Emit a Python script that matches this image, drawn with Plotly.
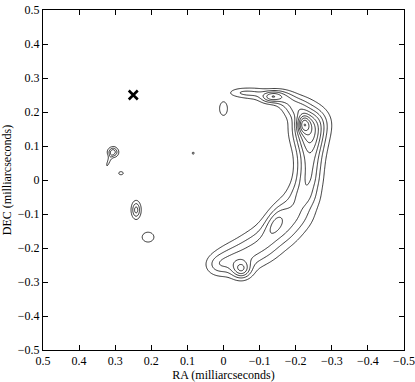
import numpy as np
import plotly.graph_objects as go

# Emission components (RA, DEC in mas)
comp_ra    = [-0.222, -0.230,
              -0.252, -0.242, -0.240, -0.238, -0.235, -0.225, -0.200, -0.160, -0.110, -0.060, -0.012, 0.020,
              -0.142, -0.050,
              -0.200, -0.168, -0.134, -0.090, -0.045,
              0.000, 0.306, 0.318, 0.284, 0.242, 0.209, 0.084]
comp_dec   = [0.165, 0.158,
              0.170, 0.125, 0.085, 0.045, 0.005, -0.040, -0.095, -0.145, -0.190, -0.220, -0.238, -0.250,
              -0.122, -0.264,
              0.215, 0.240, 0.245, 0.254, 0.257,
              0.210, 0.082, 0.055, 0.020, -0.088, -0.168, 0.079]
comp_amp   = [3.5, 3.2,
              2.4, 2.7, 2.7, 2.7, 2.7, 2.7, 2.5, 2.4, 2.3, 2.2, 2.0, 1.5,
              1.7, 3.6,
              2.4, 2.4, 3.8, 1.8, 1.4,
              1.5, 3.6, 1.3, 1.5, 3.4, 1.5, 1.6]
comp_sx    = [0.012, 0.030,
              0.030, 0.028, 0.026, 0.025, 0.025, 0.028, 0.036, 0.036, 0.036, 0.034, 0.030, 0.024,
              0.016, 0.018,
              0.025, 0.022, 0.020, 0.030, 0.025,
              0.012, 0.010, 0.004, 0.007, 0.009, 0.018, 0.003]
comp_sy    = [0.018, 0.042,
              0.030, 0.028, 0.026, 0.025, 0.025, 0.028, 0.036, 0.036, 0.036, 0.034, 0.030, 0.022,
              0.034, 0.018,
              0.021, 0.016, 0.012, 0.013, 0.010,
              0.022, 0.010, 0.020, 0.005, 0.018, 0.016, 0.003]
comp_angle = [0, 0,
              0, 0, 0, 0, 0, 0, 0, 0, 0, 0, 0, 0,
              25, 0,
              0, 0, -10, 0, 0,
              0, 0, 20, 0, 0, 0, 0]

contour_levels = dict(start=1, end=14, size=1)

# Reference position marker
marker_ra = [0.25]
marker_dec = [0.25]

x_ticks = [0.5, 0.4, 0.3, 0.2, 0.1, 0, -0.1, -0.2, -0.3, -0.4, -0.5]
y_ticks = [-0.5, -0.4, -0.3, -0.2, -0.1, 0, 0.1, 0.2, 0.3, 0.4, 0.5]

grid = np.linspace(-0.5, 0.5, 401)
X, Y = np.meshgrid(grid, grid)
Z = np.zeros_like(X)
for ra, dec, a, sx, sy, ang in zip(comp_ra, comp_dec, comp_amp, comp_sx, comp_sy, comp_angle):
    t = np.deg2rad(ang)
    dx, dy = X - ra, Y - dec
    u = dx * np.cos(t) + dy * np.sin(t)
    v = -dx * np.sin(t) + dy * np.cos(t)
    Z += a * np.exp(-0.5 * ((u / sx) ** 2 + (v / sy) ** 2))

def fmt(v):
    s = f"{v:g}"
    return s.replace("-", "\u2212")

fig = go.Figure()
fig.add_trace(go.Contour(
    x=grid, y=grid, z=Z,
    contours=dict(coloring="lines", **contour_levels),
    colorscale=[[0, "black"], [1, "black"]],
    line=dict(width=0.8, color="#333"),
    showscale=False, hoverinfo="skip",
))
fig.add_trace(go.Scatter(
    x=marker_ra, y=marker_dec, mode="markers",
    marker=dict(symbol="x-thin", size=9, line=dict(width=2.6, color="black")),
    showlegend=False, hoverinfo="skip",
))

axis_common = dict(
    showgrid=False, zeroline=False, showline=True, linecolor="black", linewidth=1,
    mirror="ticks", ticks="inside", ticklen=5, tickcolor="black", automargin=False,
    tickfont=dict(family="Liberation Serif", size=12, color="black"),
)
fig.update_xaxes(range=[0.5, -0.5], tickvals=x_ticks, ticktext=[fmt(v) for v in x_ticks],
                 title=dict(text="RA (milliarcseconds)", standoff=2,
                            font=dict(family="Liberation Serif", size=12, color="black")),
                 **axis_common)
fig.update_yaxes(range=[-0.5, 0.5], tickvals=y_ticks, ticktext=[fmt(v) for v in y_ticks],
                 title=dict(text="DEC (milliarcseconds)", standoff=4,
                            font=dict(family="Liberation Serif", size=12, color="black")),
                 **axis_common)
fig.update_layout(
    width=415, height=382,
    margin=dict(l=43, r=11, t=10, b=32),
    plot_bgcolor="white", paper_bgcolor="white",
    showlegend=False,
)
fig.write_html("out.html", config={"displayModeBar": False},
               post_script="document.body.style.margin='0';")
